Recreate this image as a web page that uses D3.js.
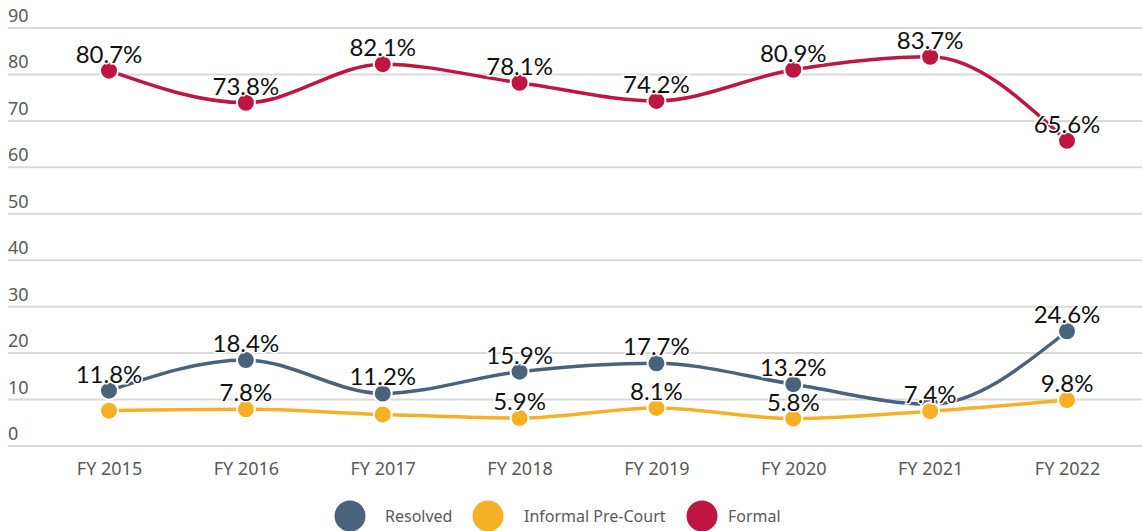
<!DOCTYPE html>
<html>
<head>
<meta charset="utf-8">
<script src="https://cdn.jsdelivr.net/npm/d3@7"></script>
<style>
  body { margin: 0; background: #fff; }
  svg { display: block; }
</style>
</head>
<body>
<div id="chart"></div>
<script>
// Data (shares, in percent)
var years = ['FY 2015', 'FY 2016', 'FY 2017', 'FY 2018', 'FY 2019', 'FY 2020', 'FY 2021', 'FY 2022'];
var resolved = [11.8, 18.4, 11.2, 15.9, 17.7, 13.2, 8.9, 24.6];
var informal = [7.5, 7.8, 6.7, 5.9, 8.1, 5.8, 7.4, 9.8];
var formal = [80.7, 73.8, 82.1, 78.1, 74.2, 80.9, 83.7, 65.6];
var yTicks = [0, 10, 20, 30, 40, 50, 60, 70, 80, 90];
// labels the original drops because they overlap
var hiddenLabels = [['Informal Pre-Court', 'FY 2015'], ['Informal Pre-Court', 'FY 2017'], ['Resolved', 'FY 2021']];

var series = [
    { name: 'Resolved', values: resolved, color: '#4b627d' },
    { name: 'Informal Pre-Court', values: informal, color: '#f5b026' },
    { name: 'Formal', values: formal, color: '#be1541' }
];

var width = 1142, height = 531;

var svg = d3.select('#chart')
    .append('svg')
    .attr('width', width)
    .attr('height', height);

var x = d3.scalePoint().domain(years).range([109, 1067]);
var y = d3.scaleLinear().domain([0, 90]).range([445.5, 27.5]);

// y gridlines with labels sitting above each line
var yAxis = svg.append('g')
    .attr('transform', 'translate(8,0)')
    .call(d3.axisRight(y).tickValues(yTicks).tickSize(1134).tickFormat(d3.format('d')));
yAxis.select('.domain').remove();
yAxis.selectAll('.tick line').attr('stroke', '#d9d9d9').attr('stroke-width', 2);
yAxis.selectAll('.tick text')
    .attr('x', 0)
    .attr('dy', -6)
    .attr('text-anchor', 'start')
    .attr('fill', '#595959')
    .style('font-family', 'Noto Sans')
    .style('font-size', '18px');

// x axis labels
var xAxis = svg.append('g')
    .attr('transform', 'translate(0,475)')
    .call(d3.axisBottom(x).tickSize(0).tickPadding(0));
xAxis.select('.domain').remove();
xAxis.selectAll('.tick text')
    .attr('dy', 0)
    .attr('fill', '#595959')
    .style('font-family', 'Noto Sans')
    .style('font-size', '18px');

var line = d3.line()
    .x(function (d, i) { return x(years[i]); })
    .y(function (d) { return y(d); })
    .curve(d3.curveMonotoneX);

series.forEach(function (s) {
    var g = svg.append('g');
    g.append('path')
        .attr('d', line(s.values))
        .attr('fill', 'none')
        .attr('stroke', s.color)
        .attr('stroke-width', 3.5);
    g.selectAll('circle')
        .data(s.values)
        .enter()
        .append('circle')
        .attr('cx', function (d, i) { return x(years[i]); })
        .attr('cy', function (d) { return y(d); })
        .attr('r', 9)
        .attr('fill', s.color)
        .attr('stroke', '#fff')
        .attr('stroke-width', 2);
});

// data labels on top, with a white halo
var labels = svg.append('g');
series.forEach(function (s) {
    s.values.forEach(function (v, i) {
        var hide = hiddenLabels.some(function (h) { return h[0] === s.name && h[1] === years[i]; });
        if (hide) return;
        labels.append('text')
            .attr('x', x(years[i]))
            .attr('y', y(v) - 8)
            .attr('text-anchor', 'middle')
            .attr('fill', '#111')
            .attr('stroke', '#fff')
            .attr('stroke-width', 3)
            .attr('paint-order', 'stroke')
            .style('font-family', 'Lato')
            .style('font-size', '24px')
            .text(v.toFixed(1) + '%');
    });
});

// legend: circle centres and text starts as placed in the original
var legendCircleX = [350, 488, 702];
var legendTextX = [385, 524, 728];
var legend = svg.append('g').attr('transform', 'translate(0,516)');
series.forEach(function (s, i) {
    legend.append('circle')
        .attr('cx', legendCircleX[i])
        .attr('cy', 0)
        .attr('r', 15.5)
        .attr('fill', s.color);
    legend.append('text')
        .attr('x', legendTextX[i])
        .attr('y', 0)
        .attr('dy', '0.35em')
        .attr('fill', '#595959')
        .style('font-family', 'Noto Sans')
        .style('font-size', '16px')
        .text(s.name);
});
</script>
</body>
</html>
